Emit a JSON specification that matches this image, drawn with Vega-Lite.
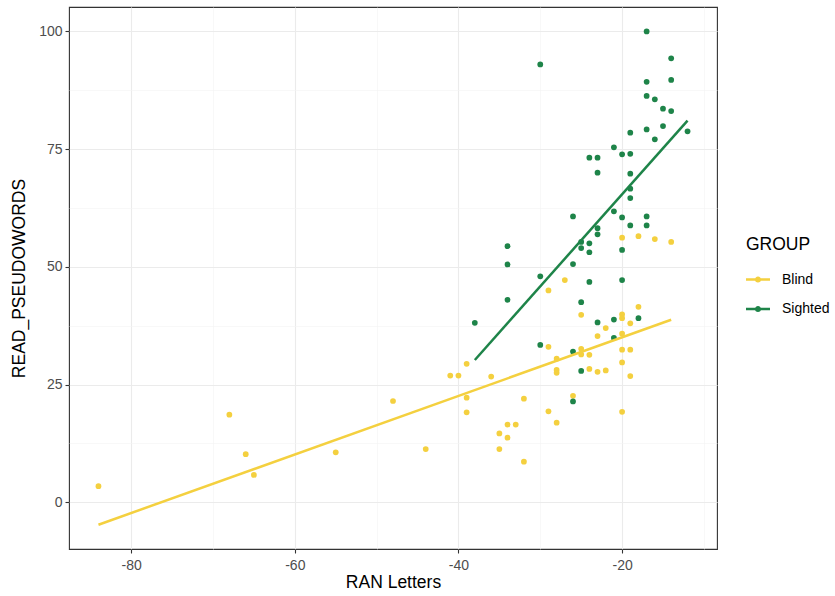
{
  "$schema": "https://vega.github.io/schema/vega-lite/v6.json",
  "width": 648,
  "height": 542,
  "autosize": {"type": "none"},
  "padding": {"left": 69, "top": 7, "right": 118, "bottom": 47},
  "background": "white",
  "config": {
    "font": "Liberation Sans",
    "view": {"stroke": "#333333", "strokeWidth": 1.1}
  },
  "data": {
    "values": [
      {"RAN": -84, "READ": 3.4, "GROUP": "Blind"},
      {"RAN": -68, "READ": 18.6, "GROUP": "Blind"},
      {"RAN": -66, "READ": 10.2, "GROUP": "Blind"},
      {"RAN": -65, "READ": 5.8, "GROUP": "Blind"},
      {"RAN": -55, "READ": 10.6, "GROUP": "Blind"},
      {"RAN": -48, "READ": 21.5, "GROUP": "Blind"},
      {"RAN": -44, "READ": 11.3, "GROUP": "Blind"},
      {"RAN": -41, "READ": 26.9, "GROUP": "Blind"},
      {"RAN": -40, "READ": 26.9, "GROUP": "Blind"},
      {"RAN": -39, "READ": 29.4, "GROUP": "Blind"},
      {"RAN": -36, "READ": 26.7, "GROUP": "Blind"},
      {"RAN": -39, "READ": 22.2, "GROUP": "Blind"},
      {"RAN": -39, "READ": 19.1, "GROUP": "Blind"},
      {"RAN": -32, "READ": 22.0, "GROUP": "Blind"},
      {"RAN": -34, "READ": 16.5, "GROUP": "Blind"},
      {"RAN": -33, "READ": 16.5, "GROUP": "Blind"},
      {"RAN": -35, "READ": 14.6, "GROUP": "Blind"},
      {"RAN": -34, "READ": 13.7, "GROUP": "Blind"},
      {"RAN": -35, "READ": 11.3, "GROUP": "Blind"},
      {"RAN": -32, "READ": 8.6, "GROUP": "Blind"},
      {"RAN": -20, "READ": 56.2, "GROUP": "Blind"},
      {"RAN": -18, "READ": 56.5, "GROUP": "Blind"},
      {"RAN": -16, "READ": 55.9, "GROUP": "Blind"},
      {"RAN": -14, "READ": 55.3, "GROUP": "Blind"},
      {"RAN": -27, "READ": 47.2, "GROUP": "Blind"},
      {"RAN": -29, "READ": 45.0, "GROUP": "Blind"},
      {"RAN": -25, "READ": 39.8, "GROUP": "Blind"},
      {"RAN": -20, "READ": 39.9, "GROUP": "Blind"},
      {"RAN": -20, "READ": 39.1, "GROUP": "Blind"},
      {"RAN": -18, "READ": 41.5, "GROUP": "Blind"},
      {"RAN": -19, "READ": 38.0, "GROUP": "Blind"},
      {"RAN": -22, "READ": 37.0, "GROUP": "Blind"},
      {"RAN": -23, "READ": 35.3, "GROUP": "Blind"},
      {"RAN": -20, "READ": 35.8, "GROUP": "Blind"},
      {"RAN": -29, "READ": 33.0, "GROUP": "Blind"},
      {"RAN": -25, "READ": 32.6, "GROUP": "Blind"},
      {"RAN": -25, "READ": 31.4, "GROUP": "Blind"},
      {"RAN": -24, "READ": 31.3, "GROUP": "Blind"},
      {"RAN": -28, "READ": 30.5, "GROUP": "Blind"},
      {"RAN": -20, "READ": 32.4, "GROUP": "Blind"},
      {"RAN": -19, "READ": 32.4, "GROUP": "Blind"},
      {"RAN": -28, "READ": 28.1, "GROUP": "Blind"},
      {"RAN": -28, "READ": 27.5, "GROUP": "Blind"},
      {"RAN": -24, "READ": 28.3, "GROUP": "Blind"},
      {"RAN": -23, "READ": 27.7, "GROUP": "Blind"},
      {"RAN": -22, "READ": 28.0, "GROUP": "Blind"},
      {"RAN": -20, "READ": 29.7, "GROUP": "Blind"},
      {"RAN": -19, "READ": 26.8, "GROUP": "Blind"},
      {"RAN": -26, "READ": 22.6, "GROUP": "Blind"},
      {"RAN": -29, "READ": 19.3, "GROUP": "Blind"},
      {"RAN": -28, "READ": 16.9, "GROUP": "Blind"},
      {"RAN": -20, "READ": 19.2, "GROUP": "Blind"},
      {"RAN": -30, "READ": 93.0, "GROUP": "Sighted"},
      {"RAN": -17, "READ": 100.0, "GROUP": "Sighted"},
      {"RAN": -14, "READ": 94.3, "GROUP": "Sighted"},
      {"RAN": -14, "READ": 89.7, "GROUP": "Sighted"},
      {"RAN": -17, "READ": 89.3, "GROUP": "Sighted"},
      {"RAN": -17, "READ": 86.3, "GROUP": "Sighted"},
      {"RAN": -16, "READ": 85.6, "GROUP": "Sighted"},
      {"RAN": -15, "READ": 83.6, "GROUP": "Sighted"},
      {"RAN": -14, "READ": 83.1, "GROUP": "Sighted"},
      {"RAN": -17, "READ": 79.2, "GROUP": "Sighted"},
      {"RAN": -15, "READ": 79.9, "GROUP": "Sighted"},
      {"RAN": -12, "READ": 78.8, "GROUP": "Sighted"},
      {"RAN": -16, "READ": 77.1, "GROUP": "Sighted"},
      {"RAN": -19, "READ": 78.5, "GROUP": "Sighted"},
      {"RAN": -21, "READ": 75.4, "GROUP": "Sighted"},
      {"RAN": -24, "READ": 73.2, "GROUP": "Sighted"},
      {"RAN": -23, "READ": 73.2, "GROUP": "Sighted"},
      {"RAN": -20, "READ": 73.9, "GROUP": "Sighted"},
      {"RAN": -19, "READ": 74.0, "GROUP": "Sighted"},
      {"RAN": -23, "READ": 70.0, "GROUP": "Sighted"},
      {"RAN": -19, "READ": 69.8, "GROUP": "Sighted"},
      {"RAN": -19, "READ": 66.6, "GROUP": "Sighted"},
      {"RAN": -19, "READ": 64.6, "GROUP": "Sighted"},
      {"RAN": -26, "READ": 60.7, "GROUP": "Sighted"},
      {"RAN": -21, "READ": 61.8, "GROUP": "Sighted"},
      {"RAN": -20, "READ": 60.5, "GROUP": "Sighted"},
      {"RAN": -17, "READ": 60.7, "GROUP": "Sighted"},
      {"RAN": -19, "READ": 58.8, "GROUP": "Sighted"},
      {"RAN": -17, "READ": 58.8, "GROUP": "Sighted"},
      {"RAN": -23, "READ": 58.2, "GROUP": "Sighted"},
      {"RAN": -23, "READ": 56.9, "GROUP": "Sighted"},
      {"RAN": -25, "READ": 55.3, "GROUP": "Sighted"},
      {"RAN": -24, "READ": 55.0, "GROUP": "Sighted"},
      {"RAN": -25, "READ": 54.0, "GROUP": "Sighted"},
      {"RAN": -24, "READ": 53.1, "GROUP": "Sighted"},
      {"RAN": -20, "READ": 53.6, "GROUP": "Sighted"},
      {"RAN": -34, "READ": 54.4, "GROUP": "Sighted"},
      {"RAN": -34, "READ": 50.5, "GROUP": "Sighted"},
      {"RAN": -26, "READ": 50.6, "GROUP": "Sighted"},
      {"RAN": -30, "READ": 48.0, "GROUP": "Sighted"},
      {"RAN": -24, "READ": 46.8, "GROUP": "Sighted"},
      {"RAN": -20, "READ": 47.2, "GROUP": "Sighted"},
      {"RAN": -34, "READ": 43.0, "GROUP": "Sighted"},
      {"RAN": -25, "READ": 42.5, "GROUP": "Sighted"},
      {"RAN": -38, "READ": 38.1, "GROUP": "Sighted"},
      {"RAN": -23, "READ": 38.2, "GROUP": "Sighted"},
      {"RAN": -21, "READ": 38.8, "GROUP": "Sighted"},
      {"RAN": -18, "READ": 39.1, "GROUP": "Sighted"},
      {"RAN": -30, "READ": 33.4, "GROUP": "Sighted"},
      {"RAN": -21, "READ": 34.9, "GROUP": "Sighted"},
      {"RAN": -26, "READ": 32.0, "GROUP": "Sighted"},
      {"RAN": -25, "READ": 27.9, "GROUP": "Sighted"},
      {"RAN": -26, "READ": 21.4, "GROUP": "Sighted"}
    ]
  },
  "encoding": {
    "x": {
      "field": "RAN",
      "type": "quantitative",
      "scale": {"domain": [-87.6, -8.4], "nice": false, "zero": false},
      "axis": {
        "title": "RAN Letters",
        "values": [-80, -70, -60, -50, -40, -30, -20, -10],
        "labelExpr": "datum.value % 20 == 0 ? '' + datum.value : ''",
        "grid": true,
        "gridColor": {"condition": {"test": "datum.value % 20 != 0", "value": "#f3f3f3"}, "value": "#ebebeb"},
        "gridWidth": {"condition": {"test": "datum.value % 20 != 0", "value": 0.6}, "value": 1.1},
        "tickColor": {"condition": {"test": "datum.value % 20 != 0", "value": "transparent"}, "value": "#333333"},
        "domain": false,
        "tickSize": 4,
        "tickWidth": 1.1,
        "labelFontSize": 14,
        "labelColor": "#4d4d4d",
        "labelPadding": 5,
        "titleFontSize": 17.5,
        "titleFontWeight": "normal",
        "titleColor": "#000000",
        "titlePadding": 1
      }
    },
    "y": {
      "field": "READ",
      "type": "quantitative",
      "scale": {"domain": [-9.94, 105.2], "nice": false, "zero": false},
      "axis": {
        "title": "READ_PSEUDOWORDS",
        "values": [0, 12.5, 25, 37.5, 50, 62.5, 75, 87.5, 100],
        "labelExpr": "datum.value % 25 == 0 ? '' + datum.value : ''",
        "grid": true,
        "gridColor": {"condition": {"test": "datum.value % 25 != 0", "value": "#f3f3f3"}, "value": "#ebebeb"},
        "gridWidth": {"condition": {"test": "datum.value % 25 != 0", "value": 0.6}, "value": 1.1},
        "tickColor": {"condition": {"test": "datum.value % 25 != 0", "value": "transparent"}, "value": "#333333"},
        "domain": false,
        "tickSize": 4,
        "tickWidth": 1.1,
        "labelFontSize": 14,
        "labelColor": "#4d4d4d",
        "labelPadding": 3,
        "titleFontSize": 17.5,
        "titleFontWeight": "normal",
        "titleColor": "#000000",
        "titlePadding": 10
      }
    },
    "color": {
      "field": "GROUP",
      "type": "nominal",
      "scale": {"domain": ["Blind", "Sighted"], "range": ["#F4D03F", "#1E8449"]},
      "legend": {
        "title": "GROUP",
        "orient": "none",
        "legendX": 677,
        "legendY": 229,
        "padding": 0,
        "titleFontSize": 17.5,
        "titleFontWeight": "normal",
        "titleColor": "#000000",
        "titlePadding": 14,
        "labelFontSize": 14,
        "labelColor": "#000000",
        "labelOffset": 12,
        "rowPadding": 10.5,
        "symbolType": "M-1,-0.1L1,-0.1L1,0.1L-1,0.1Z M0.26,0A0.26,0.26,0,1,1,-0.26,0A0.26,0.26,0,1,1,0.26,0Z",
        "symbolSize": 576,
        "symbolStrokeWidth": 0
      }
    }
  },
  "layer": [
    {
      "mark": {"type": "point", "filled": true, "size": 33, "opacity": 1}
    },
    {
      "transform": [{"regression": "READ", "on": "RAN", "groupby": ["GROUP"]}],
      "mark": {"type": "line", "strokeWidth": 2.5}
    }
  ]
}
